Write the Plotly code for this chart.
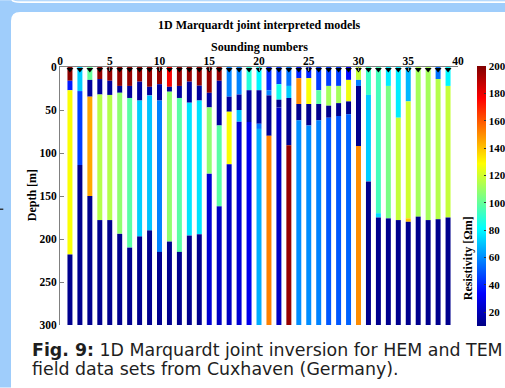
import plotly.graph_objects as go

# ---------------- data ----------------
soundings = list(range(1, 40))

# layer boundaries (depth, m) for each sounding, top -> bottom
layer_bounds = [
    [0, 16, 27, 218, 300],
    [0, 28, 114, 300],
    [0, 15, 34.5, 150, 300],
    [0, 14, 32, 178, 300],
    [0, 16, 32.5, 178, 300],
    [0, 22, 30, 194, 300],
    [0, 22, 36, 210, 300],
    [0, 17, 39, 197, 300],
    [0, 23, 33, 190, 300],
    [0, 20, 39, 215, 300],
    [0, 23, 28.7, 203, 300],
    [0, 22, 36, 215, 300],
    [0, 17, 41.5, 196, 300],
    [0, 21.7, 39, 194.5, 300],
    [0, 30, 47, 124, 300],
    [0, 16, 68, 162, 300],
    [0, 34.5, 52, 113, 300],
    [0, 32, 50, 63.6, 300],
    [0, 27, 64, 300],
    [0, 27, 66, 72, 300],
    [0, 27, 33, 80, 300],
    [0, 20, 38, 47, 300],
    [0, 22, 36, 91, 300],
    [0, 13, 43, 62, 300],
    [0, 13, 43, 68, 300],
    [0, 27, 43, 62, 300],
    [0, 22, 45, 59, 300],
    [0, 22, 42, 57, 300],
    [0, 15, 40, 55, 300],
    [0, 15, 22, 92, 300],
    [0, 32.5, 133, 300],
    [0, 170, 175, 300],
    [0, 22, 176, 300],
    [0, 59, 178, 300],
    [0, 40, 176, 180, 300],
    [0, 174, 300],
    [0, 178, 300],
    [0, 14, 177, 300],
    [0, 22, 175, 300],
]

# resistivity (Ohm m) of each layer
layer_rho = [
    [198, 38, 128, 12],
    [72, 45, 12],
    [100, 15, 145, 12],
    [196, 15, 115, 12],
    [196, 15, 115, 12],
    [196, 15, 108, 12],
    [196, 15, 98, 12],
    [196, 15, 72, 12],
    [196, 15, 70, 12],
    [196, 15, 58, 12],
    [178, 15, 108, 12],
    [196, 15, 98, 12],
    [196, 15, 76, 12],
    [196, 15, 76, 12],
    [196, 15, 108, 25],
    [196, 15, 98, 22],
    [58, 15, 128, 22],
    [58, 15, 70, 25],
    [88, 15, 30],
    [80, 15, 55, 66],
    [42, 58, 13, 152],
    [45, 85, 12, 22],
    [55, 72, 12, 196],
    [40, 150, 12, 60],
    [40, 128, 12, 60],
    [45, 98, 12, 58],
    [45, 112, 12, 50],
    [45, 112, 12, 50],
    [35, 126, 12, 52],
    [118, 58, 12, 150],
    [92, 72, 12],
    [94, 75, 12],
    [78, 104, 12],
    [78, 118, 12],
    [68, 120, 140, 12],
    [112, 12],
    [112, 12],
    [55, 115, 12],
    [80, 118, 12],
]

x_ticks = [0, 5, 10, 15, 20, 25, 30, 35, 40]
y_ticks = [0, 50, 100, 150, 200, 250, 300]
cbar_ticks = [20, 40, 60, 80, 100, 120, 140, 160, 180, 200]
rho_min, rho_max = 10, 200
depth_max = 300
marker_depth = 3

# ---------------- layout geometry (pixels) ----------------
W, H = 505, 388
L, R, T, B = 60, 47, 67, 62.5
PW, PH = W - L - R, H - T - B


def px(x):
    return (x - L) / PW


def py(y):
    return (H - B - y) / PH


jet = [
    [0.0, "rgb(0,0,132)"],
    [0.125, "rgb(0,0,255)"],
    [0.375, "rgb(0,255,255)"],
    [0.625, "rgb(255,255,0)"],
    [0.875, "rgb(255,0,0)"],
    [1.0, "rgb(128,0,0)"],
]

serif = "Liberation Serif"

fig = go.Figure()

max_layers = max(len(r) for r in layer_rho)
for k in range(max_layers):
    xs, bases, thick, cols = [], [], [], []
    for s, bnds, rhos in zip(soundings, layer_bounds, layer_rho):
        if k < len(rhos):
            xs.append(s)
            bases.append(bnds[k])
            thick.append(bnds[k + 1] - bnds[k])
            cols.append(rhos[k])
    fig.add_trace(go.Bar(
        x=xs, y=thick, base=bases, width=0.5,
        marker=dict(color=cols, coloraxis="coloraxis", line=dict(width=0)),
        showlegend=False, hoverinfo="skip",
    ))

fig.add_trace(go.Scatter(
    x=soundings, y=[marker_depth] * len(soundings), mode="markers",
    marker=dict(symbol="triangle-down", size=6, color="black"),
    showlegend=False, cliponaxis=False, hoverinfo="skip",
))

tickfont = dict(family=serif, size=11.5, color="black", weight="bold")
cbfont = dict(family=serif, size=11, color="black", weight="bold")

fig.update_layout(
    width=W, height=H,
    margin=dict(l=L, r=R, t=T, b=B, pad=0, autoexpand=False),
    paper_bgcolor="white", plot_bgcolor="white",
    barmode="overlay",
    coloraxis=dict(
        colorscale=jet, cmin=rho_min, cmax=rho_max,
        colorbar=dict(
            x=px(477), xanchor="left", y=0.5, yanchor="middle",
            thickness=9, len=260, lenmode="pixels",
            outlinewidth=0, tickvals=cbar_ticks,
            ticks="inside", ticklen=2, tickcolor="#333",
            tickfont=cbfont, xpad=0, ypad=0,
        ),
    ),
    xaxis=dict(
        side="top", range=[0, 40], tickvals=x_ticks,
        ticks="inside", ticklen=4, tickcolor="#808080",
        showline=True, linecolor="#808080", linewidth=1,
        showgrid=False, zeroline=False, tickfont=tickfont,
        ticklabelstandoff=-4,
    ),
    yaxis=dict(
        range=[depth_max, 0], tickvals=y_ticks,
        ticks="inside", ticklen=4, tickcolor="#808080",
        showline=True, linecolor="#808080", linewidth=1,
        showgrid=False, zeroline=False, tickfont=tickfont,
    ),
    font=dict(family=serif),
)

lightblue = "#9fcdfb"
path = (f"M {px(0)},{py(0)} L {px(W)},{py(0)} L {px(W)},{py(12)} "
        f"L {px(20)},{py(12)} Q {px(11)},{py(12)} {px(11)},{py(21)} "
        f"L {px(11)},{py(H)} L {px(0)},{py(H)} Z")
fig.add_shape(type="path", path=path, xref="paper", yref="paper",
              fillcolor=lightblue, line=dict(width=0), layer="below")
wline = (f"M {px(12)},{py(0)} Q {px(13)},{py(2)} {px(21)},{py(2)} "
         f"L {px(W)},{py(2)}")
fig.add_shape(type="path", path=wline, xref="paper", yref="paper",
              line=dict(color="white", width=1.6), layer="above")
fig.add_shape(type="line", xref="paper", yref="paper",
              x0=px(0), x1=px(3.3), y0=py(209.5), y1=py(209.5),
              line=dict(color="#222", width=1.3))

ann = [
    dict(text="<b>1D Marquardt joint interpreted models</b>", x=px(259), y=py(25),
         font=dict(family=serif, size=12, color="black")),
    dict(text="<b>Sounding numbers</b>", x=px(259), y=py(46.5),
         font=dict(family=serif, size=12, color="black")),
    dict(text="<b>Depth [m]</b>", x=px(31.5), y=py(195), textangle=-90,
         font=dict(family=serif, size=12, color="black")),
    dict(text="<b>Resistivity [Ωm]</b>", x=px(468), y=py(258.5), textangle=-90,
         font=dict(family=serif, size=12, color="black")),
]
for a in ann:
    fig.add_annotation(xref="paper", yref="paper", showarrow=False,
                       xanchor="center", yanchor="middle", **a)

capfont = dict(family="DejaVu Sans", size=17.4, color="#1e1e1e")
fig.add_annotation(text="<b>Fig. 9:</b> 1D Marquardt joint inversion for HEM and TEM",
                   x=px(30), y=py(351), xref="paper", yref="paper",
                   xanchor="left", yanchor="middle", showarrow=False, font=capfont)
fig.add_annotation(text="field data sets from Cuxhaven (Germany).",
                   x=px(30), y=py(369.5), xref="paper", yref="paper",
                   xanchor="left", yanchor="middle", showarrow=False, font=capfont)

fig.write_html("out.html")
